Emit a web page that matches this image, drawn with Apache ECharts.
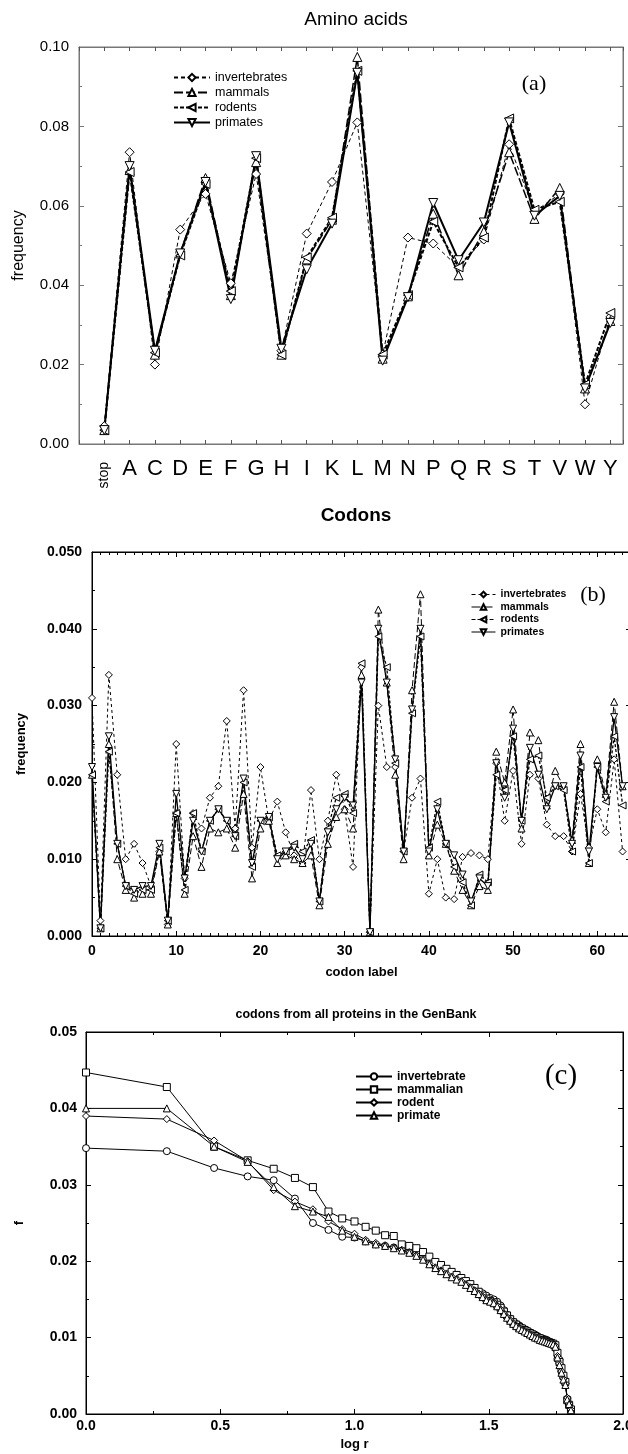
<!DOCTYPE html>
<html><head><meta charset="utf-8">
<script src="https://cdn.jsdelivr.net/npm/echarts@6/dist/echarts.min.js"></script>
<style>html,body{margin:0;padding:0;background:#fff}#c{width:628px;height:1454px}</style>
</head><body><div id="c"></div>
<script>
// ---------- Panel (a): amino acids ----------
const aminoCategories = ['stop','A','C','D','E','F','G','H','I','K','L','M','N','P','Q','R','S','T','V','W','Y'];
const aminoInvertebrates = [0.0045,0.0735,0.0200,0.0540,0.0630,0.0405,0.0680,0.0235,0.0530,0.0660,0.0810,0.0225,0.0520,0.0505,0.0445,0.0515,0.0755,0.0585,0.0630,0.0100,0.0320];
const aminoMammals       = [0.0035,0.0690,0.0225,0.0480,0.0670,0.0375,0.0710,0.0225,0.0465,0.0565,0.0975,0.0215,0.0372,0.0580,0.0425,0.0535,0.0735,0.0567,0.0645,0.0140,0.0310];
const aminoRodents       = [0.0035,0.0685,0.0230,0.0475,0.0655,0.0385,0.0720,0.0225,0.0470,0.0570,0.0940,0.0225,0.0375,0.0560,0.0445,0.0520,0.0820,0.0590,0.0610,0.0150,0.0330];
const aminoPrimates      = [0.0035,0.0700,0.0235,0.0480,0.0660,0.0365,0.0725,0.0240,0.0440,0.0555,0.0935,0.0210,0.0370,0.0607,0.0463,0.0558,0.0810,0.0575,0.0625,0.0140,0.0305];

// ---------- Panel (b): codons (label 0..63) ----------
const codonInvertebrates = [0.031,0.002,0.034,0.021,0.010,0.012,0.0095,0.0065,0.011,0.0015,0.025,0.0075,0.016,0.014,0.018,0.0195,0.028,0.014,0.032,0.0115,0.022,0.015,0.0175,0.0135,0.0105,0.0095,0.019,0.010,0.015,0.021,0.0165,0.009,0.035,0.0005,0.030,0.022,0.022,0.011,0.018,0.0205,0.0055,0.010,0.005,0.0048,0.0103,0.0108,0.0105,0.010,0.0225,0.015,0.0215,0.012,0.021,0.0205,0.0145,0.013,0.013,0.011,0.0185,0.0115,0.0165,0.0135,0.023,0.011];
const codonMammals       = [0.021,0.001,0.025,0.010,0.006,0.005,0.0055,0.0055,0.011,0.0015,0.016,0.0055,0.013,0.009,0.014,0.0135,0.014,0.0115,0.0185,0.0075,0.014,0.015,0.0095,0.0105,0.010,0.0095,0.0105,0.004,0.012,0.0155,0.0165,0.014,0.034,0.0005,0.0425,0.033,0.021,0.010,0.032,0.0445,0.0105,0.0145,0.012,0.0085,0.006,0.004,0.0065,0.006,0.024,0.020,0.0295,0.014,0.0265,0.0255,0.017,0.0215,0.0195,0.0125,0.025,0.0095,0.023,0.0185,0.0305,0.0195];
const codonRodents       = [0.021,0.001,0.024,0.012,0.0065,0.0055,0.006,0.006,0.0115,0.002,0.016,0.006,0.016,0.011,0.015,0.0165,0.015,0.013,0.020,0.009,0.015,0.0155,0.0105,0.011,0.012,0.011,0.0125,0.0045,0.014,0.018,0.0185,0.016,0.0355,0.0005,0.039,0.035,0.0225,0.011,0.029,0.039,0.0115,0.0175,0.012,0.009,0.007,0.004,0.008,0.007,0.021,0.019,0.026,0.015,0.023,0.0235,0.018,0.0195,0.019,0.011,0.022,0.0095,0.022,0.0175,0.026,0.017];
const codonPrimates      = [0.022,0.001,0.026,0.012,0.0065,0.006,0.0065,0.0065,0.012,0.002,0.0185,0.0075,0.015,0.011,0.015,0.0165,0.015,0.013,0.0205,0.0095,0.015,0.0155,0.010,0.011,0.0115,0.010,0.012,0.0045,0.0135,0.0165,0.018,0.017,0.033,0.0005,0.040,0.033,0.023,0.011,0.0295,0.040,0.011,0.0165,0.012,0.0105,0.008,0.0045,0.0075,0.0065,0.0225,0.018,0.027,0.015,0.0245,0.021,0.0165,0.0195,0.0195,0.012,0.0235,0.011,0.022,0.018,0.0285,0.0195];

// ---------- Panel (c): rank-ordered codon frequencies (rank r = 1..64) ----------
const rankInvertebrate = [0.0348,0.0344,0.0322,0.0311,0.0306,0.0282,0.0250,0.0241,0.0232,0.0231,0.0226,0.0222,0.0220,0.0218,0.0216,0.0213,0.0210,0.0208,0.0198,0.0193,0.0189,0.0185,0.0181,0.0178,0.0175,0.0171,0.0166,0.0162,0.0160,0.0158,0.0155,0.0152,0.0150,0.0147,0.0142,0.0136,0.0130,0.0125,0.0121,0.0118,0.0116,0.0113,0.0111,0.0109,0.0107,0.0105,0.0104,0.0102,0.0100,0.0099,0.0098,0.0097,0.0095,0.0093,0.0090,0.0086,0.0072,0.0071,0.0055,0.0048,0.0040,0.0020,0.0012,0.0006];
const rankMammalian    = [0.0447,0.0428,0.0350,0.0332,0.0321,0.0309,0.0297,0.0265,0.0256,0.0252,0.0245,0.0240,0.0234,0.0233,0.0222,0.0220,0.0217,0.0212,0.0206,0.0199,0.0195,0.0190,0.0186,0.0182,0.0178,0.0174,0.0170,0.0165,0.0160,0.0155,0.0151,0.0148,0.0146,0.0143,0.0139,0.0134,0.0129,0.0124,0.0120,0.0117,0.0114,0.0112,0.0110,0.0108,0.0106,0.0104,0.0102,0.0100,0.0099,0.0097,0.0096,0.0095,0.0094,0.0093,0.0092,0.0090,0.0080,0.0068,0.0060,0.0050,0.0042,0.0018,0.0012,0.0006];
const rankRodent       = [0.0390,0.0386,0.0358,0.0331,0.0293,0.0278,0.0268,0.0252,0.0242,0.0236,0.0228,0.0224,0.0221,0.0218,0.0215,0.0212,0.0208,0.0203,0.0197,0.0192,0.0188,0.0184,0.0180,0.0177,0.0174,0.0170,0.0166,0.0162,0.0158,0.0154,0.0150,0.0148,0.0146,0.0142,0.0137,0.0132,0.0127,0.0123,0.0119,0.0116,0.0113,0.0111,0.0109,0.0107,0.0105,0.0103,0.0101,0.0100,0.0098,0.0097,0.0096,0.0095,0.0094,0.0093,0.0092,0.0089,0.0076,0.0066,0.0056,0.0046,0.0040,0.0021,0.0014,0.0006];
const rankPrimate      = [0.0400,0.0400,0.0350,0.0330,0.0297,0.0272,0.0265,0.0258,0.0240,0.0232,0.0226,0.0222,0.0220,0.0217,0.0214,0.0211,0.0207,0.0202,0.0196,0.0191,0.0187,0.0183,0.0179,0.0176,0.0173,0.0169,0.0165,0.0161,0.0157,0.0153,0.0149,0.0147,0.0145,0.0141,0.0136,0.0131,0.0126,0.0122,0.0118,0.0115,0.0112,0.0110,0.0108,0.0106,0.0104,0.0102,0.0100,0.0099,0.0097,0.0096,0.0095,0.0094,0.0093,0.0092,0.0091,0.0088,0.0074,0.0064,0.0054,0.0045,0.0038,0.0019,0.0013,0.0005];

const SANS = 'Liberation Sans, Arial, sans-serif';
const SERIF = 'Liberation Serif, DejaVu Serif, serif';

const idx = arr => arr.map((v, i) => [i, v]);
const logRank = arr => arr.map((v, i) => [Math.log10(i + 1), v]);

const openSym = { color: '#fff', borderColor: '#000', borderWidth: 1 };

function lineSeries(name, data, xi, yi, symbol, rot, size, lineType, width) {
  return {
    type: 'line', name, data, xAxisIndex: xi, yAxisIndex: yi,
    symbol, symbolRotate: rot, symbolSize: size, showAllSymbol: true,
    lineStyle: { color: '#000', width, type: lineType },
    itemStyle: openSym, z: 3, animation: false
  };
}

function tickAxis(gridIndex, pos, extra, color) {
  return Object.assign({
    gridIndex, position: pos, type: 'value',
    axisLine: { show: true, onZero: false, lineStyle: { color, width: 1 } },
    axisTick: { show: true, inside: true, length: 5, lineStyle: { color } },
    minorTick: { show: true, length: 3, lineStyle: { color } },
    axisLabel: { show: false }, splitLine: { show: false }
  }, extra);
}

const chart = echarts.init(document.getElementById('c'), null, { renderer: 'canvas' });

const option = {
  backgroundColor: '#fff',
  animation: false,
  title: [
    { text: 'Amino acids', left: 356, top: 10, textAlign: 'center', padding: 0,
      textStyle: { fontFamily: SANS, fontSize: 19, fontWeight: 'normal', color: '#000' } },
    { text: '(a)', left: 534, top: 73, textAlign: 'center', padding: 0,
      textStyle: { fontFamily: SERIF, fontSize: 22, fontWeight: 'normal', color: '#000' } },
    { text: 'Codons', left: 356, top: 506, textAlign: 'center', padding: 0,
      textStyle: { fontFamily: SANS, fontSize: 19, fontWeight: 'bold', color: '#000' } },
    { text: '(b)', left: 593, top: 584, textAlign: 'center', padding: 0,
      textStyle: { fontFamily: SERIF, fontSize: 22, fontWeight: 'normal', color: '#000' } },
    { text: 'codons from all proteins in the GenBank', left: 356, top: 1008, textAlign: 'center', padding: 0,
      textStyle: { fontFamily: SANS, fontSize: 12.5, fontWeight: 'bold', color: '#000' } },
    { text: '(c)', left: 561, top: 1062, textAlign: 'center', padding: 0,
      textStyle: { fontFamily: SERIF, fontSize: 29, fontWeight: 'normal', color: '#000' } }
  ],
  legend: [
    { orient: 'vertical', left: 168, top: 66, itemWidth: 36, itemHeight: 9, itemGap: 2,
      textStyle: { fontFamily: SANS, fontSize: 12.5, lineHeight: 13, color: '#000' },
      data: ['invertebrates', 'mammals', 'rodents', 'primates'] },
    { orient: 'vertical', left: 466, top: 584, itemWidth: 24, itemHeight: 7, itemGap: 1.5,
      textStyle: { fontFamily: SANS, fontSize: 10.5, lineHeight: 11, fontWeight: 'bold', color: '#000' },
      data: [
        { name: 'invertebrates', lineStyle: { width: 1 } },
        { name: 'mammals', lineStyle: { width: 1 } },
        { name: 'rodents', lineStyle: { width: 1 } },
        { name: 'primates', lineStyle: { width: 1 } }
      ] },
    { orient: 'vertical', left: 350, top: 1065, itemWidth: 36, itemHeight: 8, itemGap: 0,
      textStyle: { fontFamily: SANS, fontSize: 12, lineHeight: 13, fontWeight: 'bold', color: '#000' },
      data: ['invertebrate', 'mammalian', 'rodent', 'primate'] }
  ],
  grid: [
    { left: 79, top: 47, width: 544, height: 397, containLabel: false, outerBoundsMode: 'none', show: true, borderColor: '#777', borderWidth: 1 },
    { left: 92, top: 552, width: 539, height: 384, containLabel: false, outerBoundsMode: 'none', show: true, borderColor: '#000', borderWidth: 1 },
    { left: 86, top: 1032, width: 537, height: 382, containLabel: false, outerBoundsMode: 'none', show: true, borderColor: '#000', borderWidth: 1 }
  ],
  xAxis: [
    // panel a: letters
    tickAxis(0, 'bottom', { min: -1, max: 20.5, interval: 1,
      minorTick: { show: false },
      axisTick: { show: true, inside: true, length: 4, lineStyle: { color: '#555' } },
      axisLabel: { show: true, margin: 14, fontFamily: SANS, fontSize: 22, color: '#000',
        showMinLabel: true, showMaxLabel: true, hideOverlap: false,
        formatter: v => (Number.isInteger(v) && v >= 1 && v < aminoCategories.length) ? aminoCategories[v] : '' } }, '#777'),
    // panel a: rotated "stop"
    tickAxis(0, 'bottom', { min: -1, max: 20.5, interval: 1,
      axisLine: { show: false, onZero: false }, axisTick: { show: false }, minorTick: { show: false },
      axisLabel: { show: true, rotate: 90, margin: 18, fontFamily: SANS, fontSize: 14, color: '#000', hideOverlap: false,
        formatter: v => v === 0 ? aminoCategories[0] : '' } }, '#777'),
    tickAxis(0, 'top', { min: -1, max: 20.5, interval: 1, minorTick: { show: false },
      axisTick: { show: true, inside: true, length: 4, lineStyle: { color: '#555' } } }, '#777'),
    // panel b
    tickAxis(1, 'bottom', { min: 0, max: 64, interval: 10, minorTick: { show: true, splitNumber: 10, length: 3, lineStyle: { color: '#000' } },
      name: 'codon label', nameLocation: 'middle', nameGap: 30,
      nameTextStyle: { fontFamily: SANS, fontSize: 13, fontWeight: 'bold', color: '#000' },
      axisLabel: { show: true, margin: 8, fontFamily: SANS, fontSize: 14, fontWeight: 'bold', color: '#000',
        formatter: v => (v % 10 === 0) ? String(v) : '' } }, '#000'),
    tickAxis(1, 'top', { min: 0, max: 64, interval: 10, minorTick: { show: true, splitNumber: 10, length: 3, lineStyle: { color: '#000' } } }, '#000'),
    // panel c
    tickAxis(2, 'bottom', { min: 0, max: 2, interval: 0.5, minorTick: { show: true, splitNumber: 2, length: 3, lineStyle: { color: '#000' } },
      name: 'log r', nameLocation: 'middle', nameGap: 24,
      nameTextStyle: { fontFamily: SANS, fontSize: 13, fontWeight: 'bold', color: '#000' },
      axisLabel: { show: true, margin: 5, fontFamily: SANS, fontSize: 14, fontWeight: 'bold', color: '#000',
        formatter: v => v.toFixed(1) } }, '#000'),
    tickAxis(2, 'top', { min: 0, max: 2, interval: 0.5, minorTick: { show: true, splitNumber: 2, length: 3, lineStyle: { color: '#000' } } }, '#000')
  ],
  yAxis: [
    tickAxis(0, 'left', { min: 0, max: 0.1, interval: 0.02, minorTick: { show: true, splitNumber: 2, length: 3, lineStyle: { color: '#777' } },
      name: 'frequency', nameLocation: 'middle', nameGap: 52, nameRotate: 90,
      nameTextStyle: { fontFamily: SANS, fontSize: 16, color: '#000' },
      axisLabel: { show: true, margin: 10, fontFamily: SANS, fontSize: 15, color: '#000', formatter: v => v.toFixed(2) } }, '#777'),
    tickAxis(0, 'right', { min: 0, max: 0.1, interval: 0.02, minorTick: { show: true, splitNumber: 2, length: 3, lineStyle: { color: '#777' } } }, '#777'),
    tickAxis(1, 'left', { min: 0, max: 0.05, interval: 0.01, minorTick: { show: true, splitNumber: 2, length: 3, lineStyle: { color: '#000' } },
      name: 'frequency', nameLocation: 'middle', nameGap: 64, nameRotate: 90,
      nameTextStyle: { fontFamily: SANS, fontSize: 13, fontWeight: 'bold', color: '#000' },
      axisLabel: { show: true, margin: 10, fontFamily: SANS, fontSize: 14, fontWeight: 'bold', color: '#000', formatter: v => v.toFixed(3) } }, '#000'),
    tickAxis(1, 'right', { min: 0, max: 0.05, interval: 0.01, minorTick: { show: true, splitNumber: 2, length: 3, lineStyle: { color: '#000' } } }, '#000'),
    tickAxis(2, 'left', { min: 0, max: 0.05, interval: 0.01, minorTick: { show: true, splitNumber: 2, length: 3, lineStyle: { color: '#000' } },
      name: 'f', nameLocation: 'middle', nameGap: 60, nameRotate: 90,
      nameTextStyle: { fontFamily: SANS, fontSize: 13, fontWeight: 'bold', color: '#000' },
      axisLabel: { show: true, margin: 9, fontFamily: SANS, fontSize: 14, fontWeight: 'bold', color: '#000', formatter: v => v.toFixed(2) } }, '#000'),
    tickAxis(2, 'right', { min: 0, max: 0.05, interval: 0.01, minorTick: { show: true, splitNumber: 2, length: 3, lineStyle: { color: '#000' } } }, '#000')
  ],
  series: [
    lineSeries('invertebrates', idx(aminoInvertebrates), 0, 0, 'diamond', 0, 9, [4, 3], 1),
    lineSeries('mammals', idx(aminoMammals), 0, 0, 'triangle', 0, 9, [9, 3], 1.5),
    lineSeries('rodents', idx(aminoRodents), 0, 0, 'triangle', 90, 9, [4, 2], 2),
    lineSeries('primates', idx(aminoPrimates), 0, 0, 'triangle', 180, 9, 'solid', 2),

    lineSeries('invertebrates', idx(codonInvertebrates), 3, 2, 'diamond', 0, 7, [3, 3], 1),
    lineSeries('mammals', idx(codonMammals), 3, 2, 'triangle', 0, 7, [6, 3], 1),
    lineSeries('rodents', idx(codonRodents), 3, 2, 'triangle', 90, 7, [3, 2], 1.3),
    lineSeries('primates', idx(codonPrimates), 3, 2, 'triangle', 180, 7, 'solid', 1.3),

    lineSeries('invertebrate', logRank(rankInvertebrate), 5, 4, 'circle', 0, 7, 'solid', 1),
    lineSeries('mammalian', logRank(rankMammalian), 5, 4, 'rect', 0, 7, 'solid', 1),
    lineSeries('rodent', logRank(rankRodent), 5, 4, 'diamond', 0, 7, 'solid', 1),
    lineSeries('primate', logRank(rankPrimate), 5, 4, 'triangle', 0, 7, 'solid', 1)
  ]
};
chart.setOption(option);
</script></body></html>
